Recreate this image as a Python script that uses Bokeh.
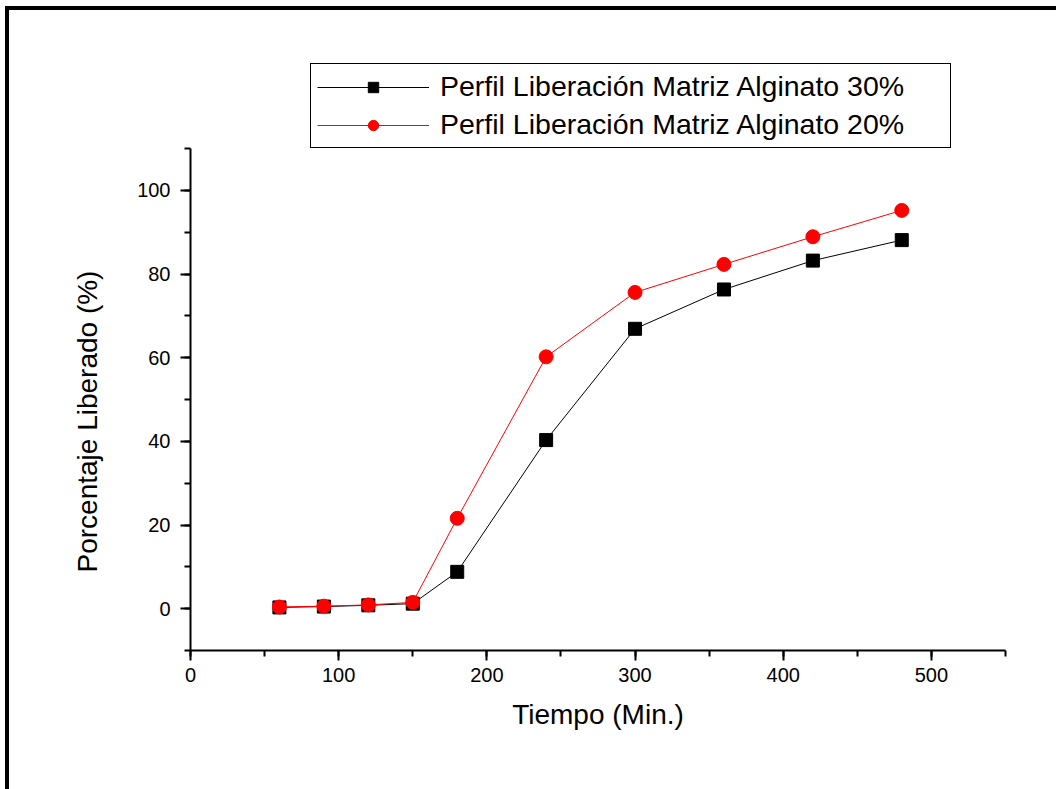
from bokeh.plotting import figure
from bokeh.layouts import column
from bokeh.models import Legend, LegendItem, Title
from bokeh.embed import file_html
from bokeh.resources import INLINE

tiempo = [60, 90, 120, 150, 180, 240, 300, 360, 420, 480]
alginato_30 = [0.3, 0.5, 0.8, 1.2, 8.8, 40.3, 66.9, 76.3, 83.2, 88.1]
alginato_20 = [0.4, 0.6, 0.9, 1.5, 21.6, 60.2, 75.6, 82.3, 88.9, 95.2]
labels = ["Perfil Liberación Matriz Alginato 30%", "Perfil Liberación Matriz Alginato 20%"]
x_title = "Tiempo (Min.)"
y_title = "Porcentaje Liberado (%)"

FONT = "Liberation Sans"

# axis spans -10..110 over 502 px; frame extended upward (to hold the legend)
Y_LO, Y_HI = -10, 110
px_per_unit = 502 / (Y_HI - Y_LO)
frame_px = 590
y_top = Y_LO + frame_px / px_per_unit

p = figure(width=1047, height=779, x_range=(0, 550), y_range=(Y_LO, y_top),
           output_backend="svg", toolbar_location=None,
           min_border_left=181, min_border_right=51, min_border_top=779 - 139 - frame_px,
           min_border_bottom=139)
p.outline_line_color = None
p.grid.visible = False
p.background_fill_color = "white"
p.border_fill_color = "white"

for ax in (p.xaxis[0], p.yaxis[0]):
    ax.axis_line_width = 2
    ax.major_tick_line_width = 2
    ax.minor_tick_line_width = 2
    ax.major_tick_in = 0
    ax.major_tick_out = 10
    ax.minor_tick_in = 0
    ax.minor_tick_out = 6
    ax.major_label_text_font = FONT
    ax.major_label_text_font_size = "20px"
    ax.major_label_text_color = "black"
    ax.axis_label_text_font = FONT
    ax.axis_label_text_font_size = "28px"
    ax.axis_label_text_font_style = "normal"
    ax.axis_label_text_color = "black"

p.yaxis.bounds = (Y_LO, Y_HI)
p.xaxis.ticker.desired_num_ticks = 6
p.xaxis[0].ticker.num_minor_ticks = 2
p.yaxis[0].ticker.num_minor_ticks = 2
p.xaxis.axis_label = x_title
p.xaxis.major_label_standoff = 7
p.yaxis.major_label_standoff = 10
p.xaxis.axis_label_standoff = 14

ytitle = Title(text=y_title, align="left", offset=78, standoff=64,
               text_font=FONT, text_font_size="28px", text_font_style="normal",
               text_color="black")
p.add_layout(ytitle, "left")

l1 = p.line(tiempo, alginato_30, line_color="black", line_width=1)
s1 = p.scatter(tiempo, alginato_30, marker="square", size=13, fill_color="black", line_color="black")
l2 = p.line(tiempo, alginato_20, line_color="red", line_width=1)
s2 = p.scatter(tiempo, alginato_20, marker="circle", size=14, fill_color="red", line_color="red")

legend = Legend(items=[LegendItem(label=labels[0], renderers=[l1, s1]),
                       LegendItem(label=labels[1], renderers=[l2, s2])],
                location=(120, 502), margin=0, padding=6, spacing=5,
                glyph_width=112, glyph_height=26, label_standoff=11, label_width=504,
                label_text_font=FONT, label_text_font_size="28.5px", label_text_color="black",
                border_line_color="black", border_line_width=1, border_line_alpha=1.0,
                background_fill_color="white", background_fill_alpha=1.0)
p.add_layout(legend, "center")

layout = column(p, styles={"border-top": "4px solid black", "border-left": "4px solid black",
                           "margin-left": "5px", "margin-top": "6px"})

open("out.html", "w").write(file_html(layout, INLINE))
